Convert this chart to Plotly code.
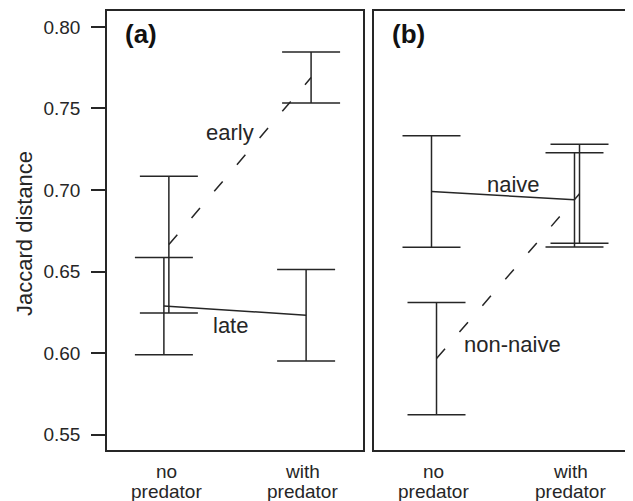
import plotly.graph_objects as go

# ---- data ----
x_cats = ["no<br>predator", "with<br>predator"]
x_pos = [1, 2]

# panel (a)
early_mean = [0.6665, 0.7690]
early_se = [0.0420, 0.0157]
late_mean = [0.6288, 0.6232]
late_se = [0.0298, 0.0281]

# panel (b)
naive_mean = [0.6990, 0.6940]
naive_se = [0.0342, 0.0289]
nonnaive_mean = [0.5966, 0.6977]
nonnaive_se = [0.0344, 0.0304]

y_ticks = [0.55, 0.60, 0.65, 0.70, 0.75, 0.80]

# ---- style ----
INK = "#262626"
FONT = "Liberation Sans, Arial, sans-serif"
OFF = 0.035
XR = [0.60, 2.40]
YR = [0.5405, 0.8098]
# page body has an 8px margin: lay the figure out in page pixels minus 8
O = 8
W, H = 633 - O, 501 - O


def px_x(p):
    return (p - O) / W


def px_y(p):
    return 1 - (p - O) / H


fig = go.Figure()


def add_series(xa, ya, xs, means, ses, dash):
    fig.add_trace(go.Scatter(
        x=xs, y=means, mode="lines", xaxis=xa, yaxis=ya,
        line=dict(color=INK, width=1.5, dash=dash),
        error_y=dict(type="data", array=ses, visible=True,
                     color=INK, thickness=1.5, width=29),
        showlegend=False, hoverinfo="skip"))


add_series("x", "y", x_pos, late_mean, late_se, "solid")
add_series("x", "y", [p + OFF for p in x_pos], early_mean, early_se, "13px,22px")
add_series("x2", "y2", x_pos, naive_mean, naive_se, "solid")
add_series("x2", "y2", [p + OFF for p in x_pos], nonnaive_mean, nonnaive_se, "13px,22px")

axis_common = dict(showline=True, mirror=True, linecolor=INK, linewidth=1.5,
                   showgrid=False, zeroline=False)

ydom = [px_y(450), px_y(11)]
fig.update_layout(
    width=W, height=H,
    margin=dict(l=0, r=0, t=0, b=0),
    paper_bgcolor="white", plot_bgcolor="white",
    font=dict(family=FONT, color=INK),
    xaxis=dict(domain=[px_x(107), px_x(363)], range=XR, showticklabels=False,
               ticks="", anchor="y", **axis_common),
    xaxis2=dict(domain=[px_x(374.3), px_x(631.7)], range=XR, showticklabels=False,
                ticks="", anchor="y2", **axis_common),
    yaxis=dict(domain=ydom, range=YR, anchor="x",
               tickvals=y_ticks, ticktext=[f"{v:.2f}" for v in y_ticks],
               ticks="outside", ticklen=14, tickwidth=1.5, tickcolor=INK,
               ticklabelstandoff=7,
               tickfont=dict(size=19, family=FONT, color=INK),
               **axis_common),
    yaxis2=dict(domain=ydom, range=YR, anchor="x2",
                showticklabels=False, ticks="", **axis_common),
)

ann = []
# category labels (two lines, tight spacing)
label_x = [1.015, 1.975]
for xa in ["x", "x2"]:
    for lx, cat in zip(label_x, x_cats):
        lines = cat.split("<br>")
        for i, ln in enumerate(lines):
            ann.append(dict(x=lx, xref=xa, y=px_y(471 + 20 * i), yref="paper",
                            text=ln, showarrow=False, xanchor="center", yanchor="middle",
                            font=dict(size=19, family=FONT, color=INK)))

# series labels
series_labels = [
    ("x", "y", 1.467, 0.735, "early"),
    ("x", "y", 1.471, 0.6166, "late"),
    ("x2", "y2", 1.570, 0.7033, "naive"),
    ("x2", "y2", 1.566, 0.6051, "non-naive"),
]
for xa, ya, x, y, t in series_labels:
    ann.append(dict(x=x, xref=xa, y=y, yref=ya, text=t, showarrow=False,
                    xanchor="center", yanchor="middle",
                    font=dict(size=22, family=FONT, color=INK)))

# panel letters
for xa, ya, t in [("x", "y", "(a)"), ("x2", "y2", "(b)")]:
    ann.append(dict(x=0.061, xref=xa + " domain", y=0.9476, yref=ya + " domain",
                    text=f"<b>{t}</b>", showarrow=False, xanchor="left",
                    yanchor="middle", font=dict(size=26, family=FONT, color="#111")))

# y axis title
ann.append(dict(x=px_x(24), xref="paper", y=px_y(234), yref="paper",
                text="Jaccard distance", textangle=-90, showarrow=False,
                xanchor="center", yanchor="middle",
                font=dict(size=22, family=FONT, color=INK)))

fig.update_layout(annotations=ann)
fig.write_html("out.html")
